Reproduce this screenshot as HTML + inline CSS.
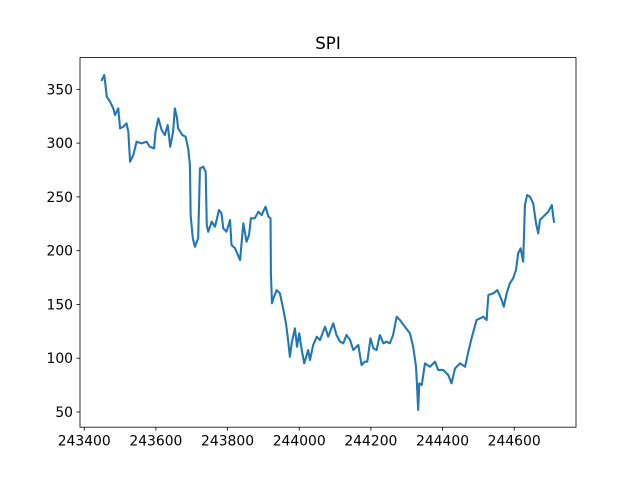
<!DOCTYPE html>
<html><head><meta charset="utf-8"><style>
html,body{margin:0;padding:0;background:#fff;}
svg{display:block;font-family:"DejaVu Sans","Liberation Sans",sans-serif;}
</style></head><body>
<svg id="chart" width="640" height="480" viewBox="0 0 640 480">
<rect x="0" y="0" width="640" height="480" fill="#fff"/>
<text x="328" y="49" text-anchor="middle" font-size="16.7" fill="#000">SPI</text>
<g id="xticks"></g>
<g id="yticks"></g>
<path id="series" fill="none" stroke="#1f77b4" stroke-width="2.08" stroke-linejoin="round" stroke-linecap="square"/>
<rect x="80" y="57.6" width="496" height="369.6" fill="none" stroke="#000" stroke-width="0.8"/>
</svg>
<script>
const xValues = [243449,243456,243463,243472,243481,243486,243495,243500,243509,243518,243523,243528,243537,243546,243560,243574,243583,243595,243599,243607,243616,243625,243633,243640,243648,243653,243659,243662,243674,243683,243690,243695,243697,243703,243709,243718,243723,243732,243739,243742,243746,243756,243765,243776,243783,243788,243797,243807,243811,243821,243835,243844,243853,243860,243865,243876,243886,243895,243906,243914,243920,243921,243924,243928,243937,243946,243955,243963,243969,243974,243979,243988,243994,244000,244007,244014,244025,244030,244039,244049,244058,244072,244081,244095,244104,244114,244123,244132,244142,244151,244165,244174,244183,244190,244199,244207,244216,244225,244235,244244,244253,244262,244272,244281,244295,244309,244318,244326,244329,244332,244335,244342,244351,244365,244379,244388,244402,244416,244425,244435,244449,244463,244472,244481,244495,244514,244523,244528,244542,244553,244565,244571,244579,244588,244597,244605,244611,244618,244625,244630,244636,244644,244653,244661,244667,244672,244681,244695,244705,244711];
const spiValues = [358.6,363.3,343.1,338.5,332.3,326.1,332.3,313.7,315.2,318.4,310.6,282.7,288.9,301.3,299.8,301.3,296.6,295.1,310.6,323.0,312.2,307.5,316.8,296.6,310.6,332.3,323.0,313.7,307.5,305.9,295.1,279.6,233.1,211.5,203.7,211.5,276.6,278.0,273.4,223.9,217.6,226.9,222.3,237.8,234.7,220.8,217.6,228.5,205.3,202.2,191.3,225.4,208.3,214.6,230.1,230.1,236.2,233.1,240.9,231.6,230.1,179.2,151.1,155.7,163.4,160.4,146.4,132.5,116.9,101.4,113.9,127.8,110.7,123.2,107.6,95.3,107.6,98.4,112.3,120.0,116.9,129.3,120.0,132.5,121.6,115.4,113.9,121.6,116.9,107.6,112.3,93.7,96.8,96.8,118.5,109.2,107.6,121.6,113.9,115.4,113.9,121.6,138.6,135.5,129.3,123.2,110.7,92.1,73.5,51.9,76.7,75.1,95.3,92.1,96.8,89.1,89.1,84.4,76.7,90.6,95.3,92.1,106.1,118.5,135.5,138.6,135.5,158.8,160.4,163.4,154.1,147.9,160.4,169.7,174.3,182.0,197.5,202.2,189.7,242.4,251.7,250.2,244.0,225.4,216.1,228.5,231.6,236.2,242.4,226.9];
const xTickValues = [243400,243600,243800,244000,244200,244400,244600];
const yTickValues = [50,100,150,200,250,300,350];

const X0 = 80, X1 = 576, Y0 = 57.6, Y1 = 427.2;
const xMin = 243388.2, xMax = 244772.5;
const yMin = 35.9, yMax = 379.5;
function sx(v){ return X0 + (v - xMin) / (xMax - xMin) * (X1 - X0); }
function sy(v){ return Y1 - (v - yMin) / (yMax - yMin) * (Y1 - Y0); }
const NS = 'http://www.w3.org/2000/svg';

let d = '';
for (let i = 0; i < xValues.length; i++) {
  d += (i ? 'L' : 'M') + sx(xValues[i]).toFixed(2) + ',' + sy(spiValues[i]).toFixed(2);
}
document.getElementById('series').setAttribute('d', d);

const xg = document.getElementById('xticks');
xTickValues.forEach(v => {
  const x = sx(v);
  const t = document.createElementNS(NS, 'line');
  t.setAttribute('x1', x); t.setAttribute('x2', x);
  t.setAttribute('y1', Y1); t.setAttribute('y2', Y1 + 3.5);
  t.setAttribute('stroke', '#000'); t.setAttribute('stroke-width', '0.8');
  
  
  xg.appendChild(t);
  const l = document.createElementNS(NS, 'text');
  l.setAttribute('x', x); l.setAttribute('y', Y1 + 18.5);
  l.setAttribute('text-anchor', 'middle'); l.setAttribute('font-size', '13.9');
  l.textContent = String(v);
  
  
  xg.appendChild(l);
});

const yg = document.getElementById('yticks');
yTickValues.forEach(v => {
  const y = sy(v);
  const t = document.createElementNS(NS, 'line');
  t.setAttribute('x1', X0 - 3.5); t.setAttribute('x2', X0);
  t.setAttribute('y1', y); t.setAttribute('y2', y);
  t.setAttribute('stroke', '#000'); t.setAttribute('stroke-width', '0.8');
  
  
  yg.appendChild(t);
  const l = document.createElementNS(NS, 'text');
  l.setAttribute('x', X0 - 7); l.setAttribute('y', y + 5);
  l.setAttribute('text-anchor', 'end'); l.setAttribute('font-size', '13.9');
  l.textContent = String(v);
  
  
  yg.appendChild(l);
});
</script>
</body></html>
